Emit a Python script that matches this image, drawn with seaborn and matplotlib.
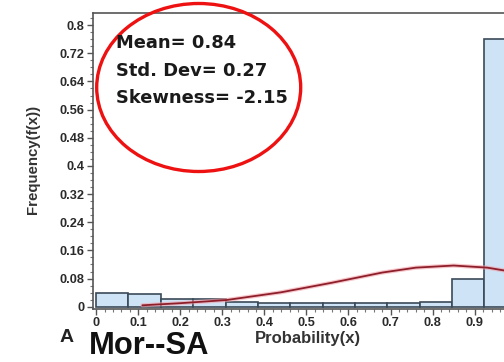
import matplotlib
matplotlib.use("Agg")
import matplotlib.pyplot as plt
import seaborn as sns
import numpy as np
import pandas as pd
from matplotlib.patches import Ellipse
from matplotlib.ticker import AutoMinorLocator, FixedLocator

# ---- data ----
bin_edges = [0.0, 0.0769, 0.1538, 0.2308, 0.3077, 0.3846, 0.4615, 0.5385,
             0.6154, 0.6923, 0.7692, 0.8462, 0.9231, 1.0]
bin_heights = [0.040, 0.036, 0.022, 0.022, 0.014, 0.011, 0.011, 0.011,
               0.011, 0.011, 0.014, 0.079, 0.760]
curve_x = [0.11, 0.20, 0.31, 0.44, 0.56, 0.68, 0.76, 0.85, 0.93, 0.98, 1.02]
curve_y = [0.004, 0.010, 0.019, 0.041, 0.068, 0.097, 0.111, 0.117, 0.111, 0.101, 0.094]
x_ticks = [0, 0.1, 0.2, 0.3, 0.4, 0.5, 0.6, 0.7, 0.8, 0.9]
x_tick_labels = ["0", "0.1", "0.2", "0.3", "0.4", "0.5", "0.6", "0.7", "0.8", "0.9"]
y_ticks = [0, 0.08, 0.16, 0.24, 0.32, 0.4, 0.48, 0.56, 0.64, 0.72, 0.8]
y_tick_labels = ["0", "0.08", "0.16", "0.24", "0.32", "0.4", "0.48", "0.56", "0.64", "0.72", "0.8"]
stats_lines = ["Mean= 0.84", "Std. Dev= 0.27", "Skewness= -2.15"]

sns.set_theme(style="white")
plt.rcParams['font.family'] = ['Liberation Sans', 'DejaVu Sans']

fig = plt.figure(figsize=(5.04, 3.62), dpi=100)
ax = fig.add_axes([0.184, 0.1464, 0.848, 0.8168])

centers = [(bin_edges[i] + bin_edges[i + 1]) / 2 for i in range(len(bin_heights))]
df = pd.DataFrame({"x": centers, "w": bin_heights})
sns.histplot(data=df, x="x", weights="w", bins=bin_edges, stat="count",
             color="#cfe3f6", alpha=1.0, edgecolor="#3b4a58", linewidth=1.2, ax=ax)

cdf = pd.DataFrame({"x": curve_x, "y": curve_y})
sns.lineplot(data=cdf, x="x", y="y", color="#f2a0a8", linewidth=3.0, alpha=0.6, ax=ax)
sns.lineplot(data=cdf, x="x", y="y", color="#8e1f2a", linewidth=1.3, ax=ax)

ax.set_xlim(-0.008, 1.008)
ax.set_ylim(-0.0065, 0.8335)
ax.xaxis.set_major_locator(FixedLocator(x_ticks))
ax.set_xticklabels(x_tick_labels)
ax.yaxis.set_major_locator(FixedLocator(y_ticks))
ax.set_yticklabels(y_tick_labels)
ax.xaxis.set_minor_locator(AutoMinorLocator(5))
ax.yaxis.set_minor_locator(AutoMinorLocator(4))
ax.tick_params(axis="both", which="major", direction="out", length=4, width=1,
               color="#555555", labelsize=9.2, labelcolor="#2a2a2a", pad=2,
               bottom=True, left=True)
ax.tick_params(axis="both", which="minor", direction="out", length=2, width=0.8,
               color="#777777", bottom=True, left=True)
for lab in ax.get_xticklabels() + ax.get_yticklabels():
    lab.set_fontweight("bold")
for side in ["left", "bottom", "top"]:
    ax.spines[side].set_color("#555555")
    ax.spines[side].set_linewidth(1.2)
ax.spines["right"].set_visible(False)
ax.set_xlabel("")
ax.set_ylabel("")

fig.text(33 / 504, 1 - 159 / 362, "Frequency(f(x))", rotation=90, ha="center", va="center",
         fontsize=10.8, fontweight="bold", color="#333333")
fig.text(308 / 504, 1 - 339 / 362, "Probability(x)", ha="center", va="center",
         fontsize=12, fontweight="bold", color="#333333")
fig.text(67 / 504, 1 - 338 / 362, "A", ha="center", va="center",
         fontsize=14, fontweight="bold", color="#222222")
fig.text(89 / 504, 1 - 346 / 362, "Mor--SA", ha="left", va="center",
         fontsize=22.2, fontweight="bold", color="#111111")

for i, s in enumerate(stats_lines):
    fig.text(116 / 504, 1 - (43 + 27.5 * i) / 362, s, ha="left", va="center",
             fontsize=12.9, fontweight="bold", color="#1a1a1a",
             family=["DejaVu Sans"])

ell = Ellipse((198.7 / 504, 1 - 87.5 / 362), 204 / 504, 168 / 362,
              transform=fig.transFigure, fill=False, edgecolor="#ee1111", linewidth=2.4)
fig.patches.append(ell)

fig.savefig("out.png", dpi=100)
